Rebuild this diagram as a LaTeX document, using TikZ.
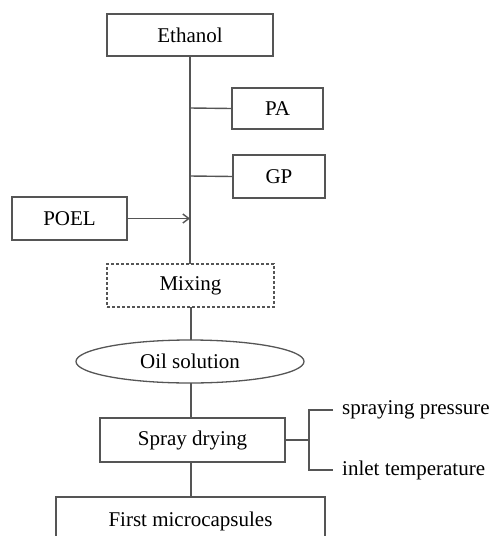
\documentclass[tikz,border=0pt]{standalone}
\usepackage{fontspec}
\setmainfont{Liberation Serif}
\usetikzlibrary{shapes.geometric,arrows.meta}
\definecolor{lc}{HTML}{555555}
\tikzset{
  box/.style={draw=lc, line width=1.3pt, rectangle, inner sep=0pt, font=\fontsize{21}{25}\selectfont},
  oval/.style={draw=lc, line width=1.3pt, ellipse, inner sep=0pt, font=\fontsize{21}{25}\selectfont},
  conn/.style={draw=lc, line width=1.4pt},
  lbl/.style={inner sep=0pt, anchor=west, font=\fontsize{21}{25}\selectfont}
}
\begin{document}
\begin{tikzpicture}[x=1pt,y=-1pt]
\useasboundingbox (0,0) rectangle (493,536);
\clip (0,0) rectangle (493,536);
\node[box, minimum width=166pt, minimum height=42pt] (eth) at (190,35) {Ethanol};
\node[box, minimum width=91pt, minimum height=41pt] (pa) at (277.5,108.5) {PA};
\node[box, minimum width=92pt, minimum height=43pt] (gp) at (279,176.5) {GP};
\node[box, minimum width=115pt, minimum height=43pt] (poel) at (69.5,218.5) {POEL};
\node[box, dashed, dash pattern=on 3pt off 2pt, minimum width=167pt, minimum height=43pt] (mix) at (190.5,285.5) {Mixing};
\node[oval, minimum width=228pt, minimum height=43pt] (oil) at (190,361.5) {Oil solution};
\node[box, minimum width=185pt, minimum height=44pt] (spray) at (192.5,440) {Spray drying};
\node[box, minimum width=269pt, minimum height=48pt] (first) at (190.5,521) {First microcapsules};
\coordinate (jpa) at (190,108);
\coordinate (jgp) at (190,176);
\coordinate (jpo) at (190,218.5);
\draw[conn] (190,56) coordinate (etop) -- (190,264) coordinate (mtop);
\draw[conn] (jpa) -- (pa.west);
\draw[conn] (jgp) -- (gp.west);
\draw[conn, -{Straight Barb[length=6pt,width=9pt]}] (poel.east) -- (jpo);
\draw[conn] (191,307) coordinate (mbot) -- (191,340) coordinate (otop);
\draw[conn] (191,383) coordinate (obot) -- (191,418) coordinate (stop);
\draw[conn] (191,462) coordinate (sbot) -- (191,497) coordinate (ftop);
\coordinate (bk) at (309,440);
\coordinate (pe) at (333,410);
\coordinate (te) at (333,470);
\draw[conn] (spray.east) -- (bk);
\draw[conn] (pe) -| (bk) |- (te);
\node[lbl] (sp) at (342,410) {spraying pressure};
\node[lbl] (it) at (342,470) {inlet temperature};
\end{tikzpicture}
\end{document}
